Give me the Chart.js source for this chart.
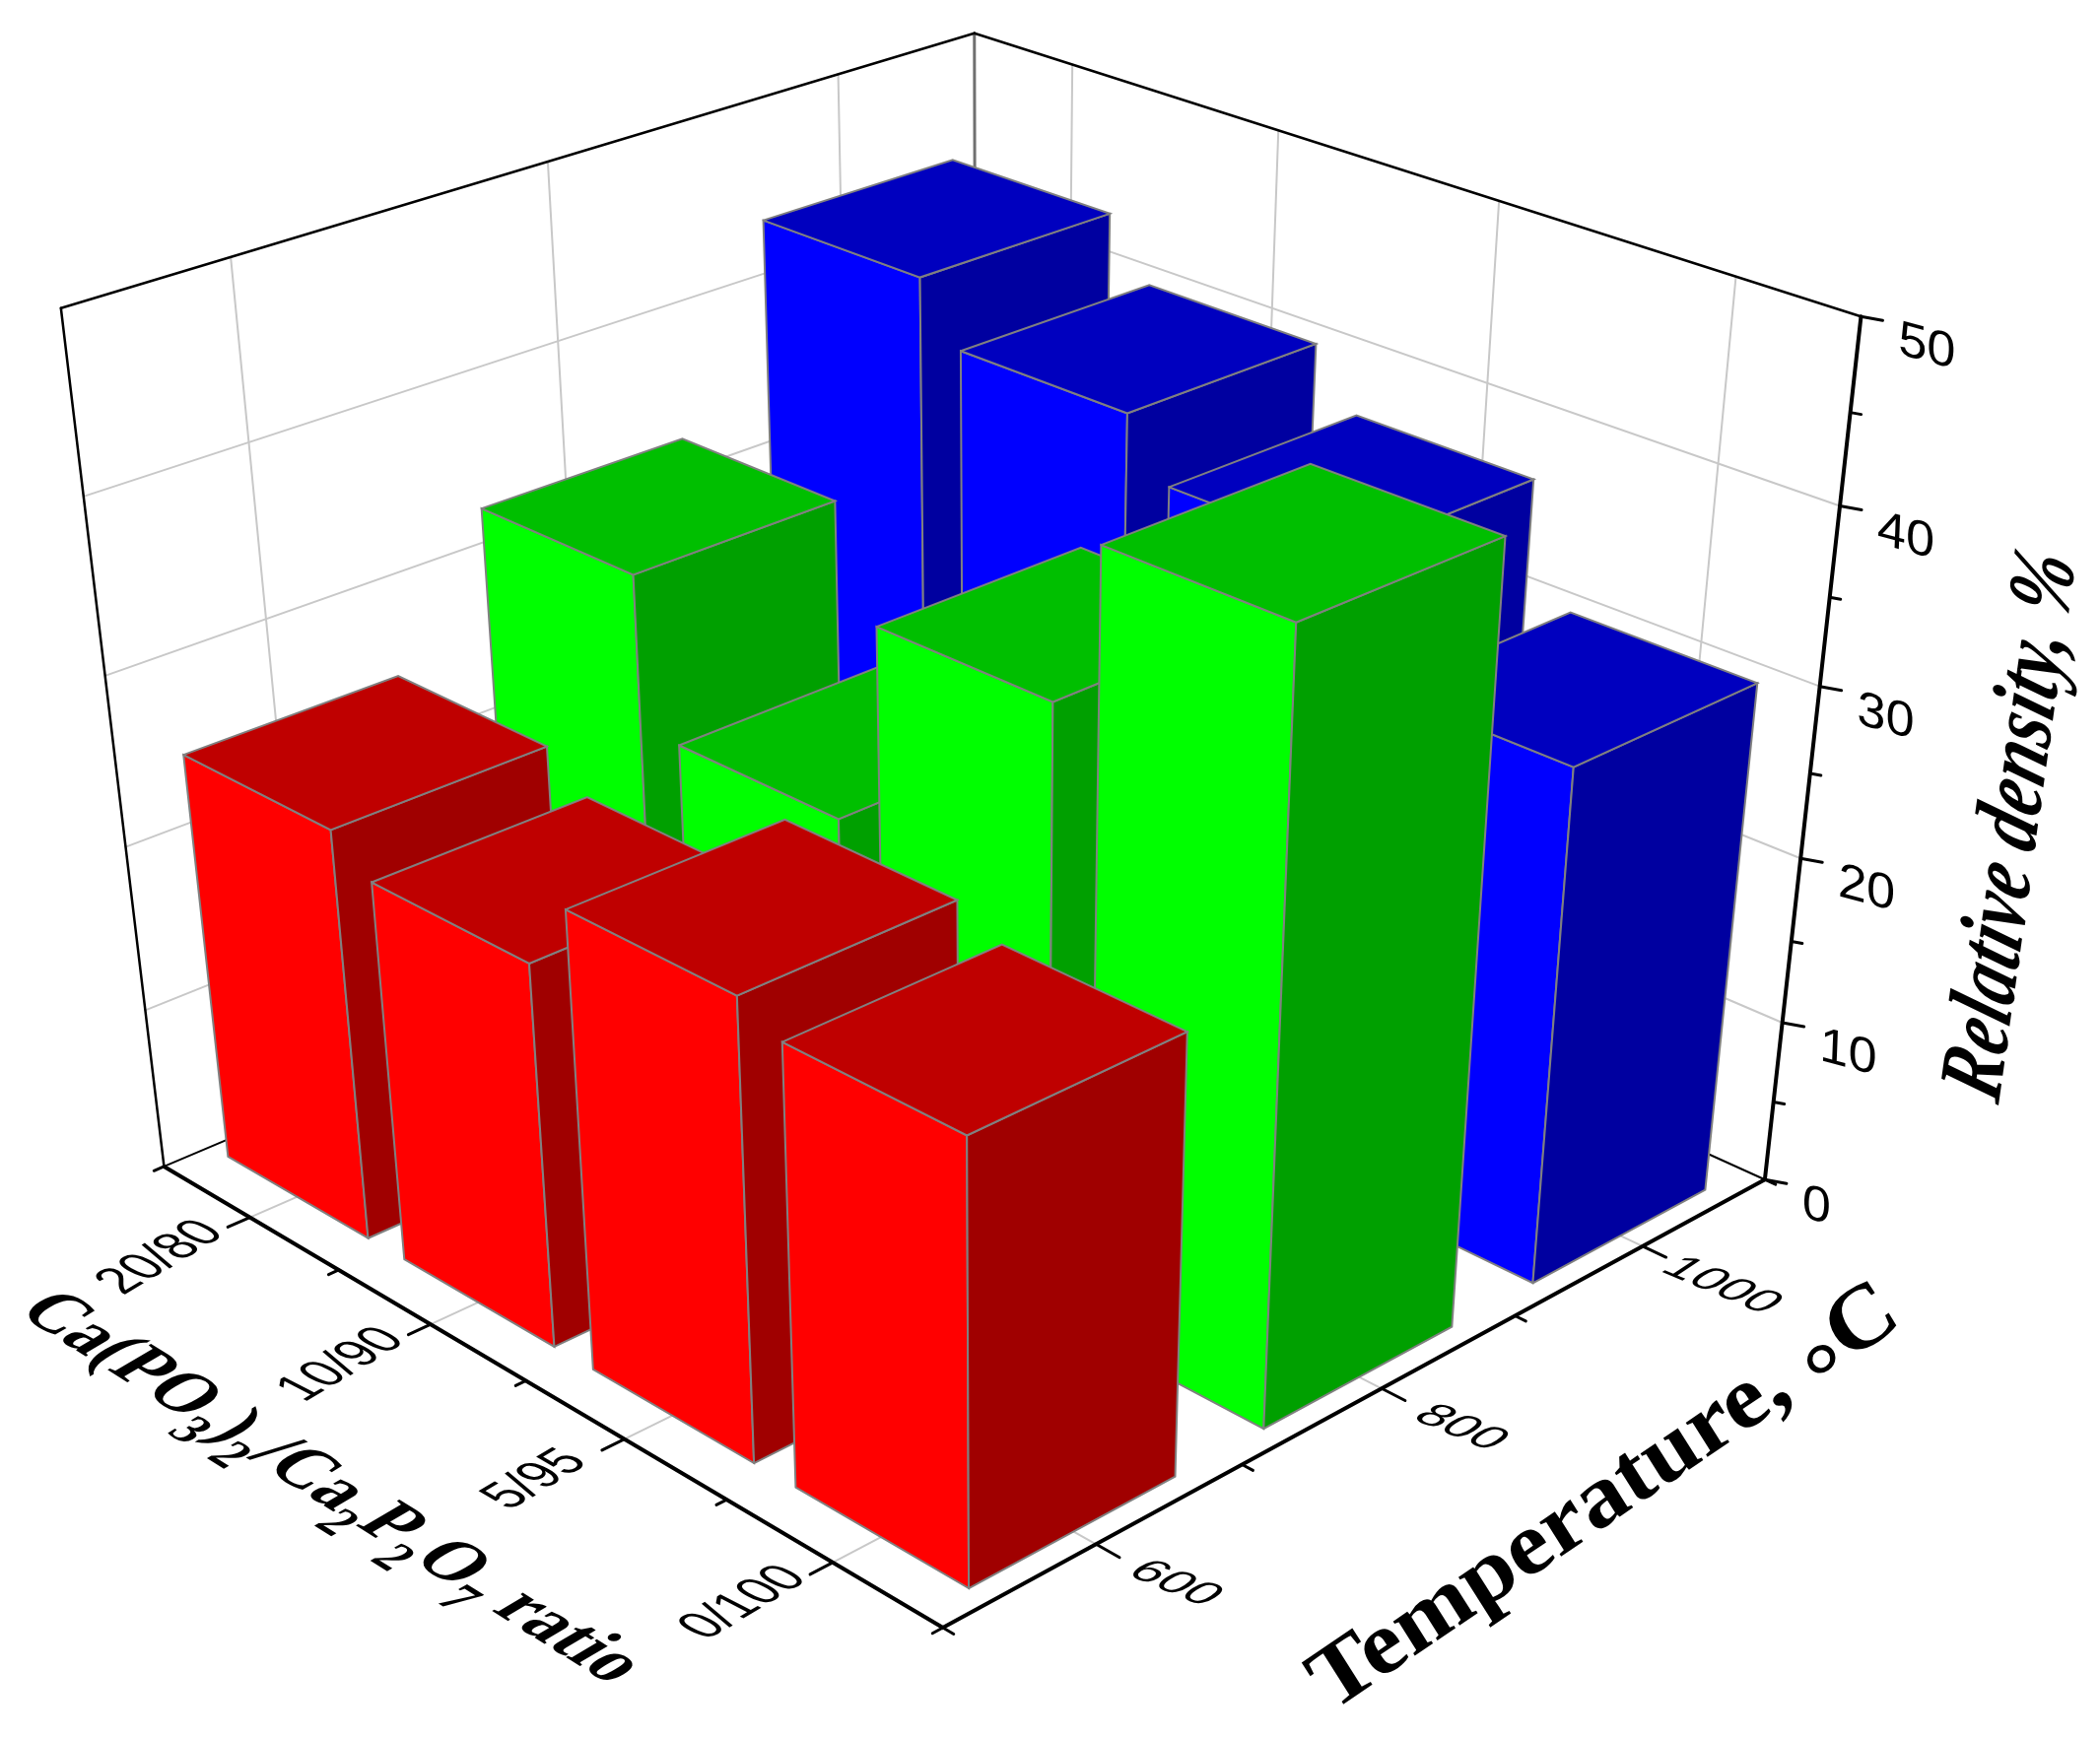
<!DOCTYPE html>
<html>
<head>
<meta charset="utf-8">
<title>Relative density</title>
<script src="https://cdn.jsdelivr.net/npm/chart.js@4/dist/chart.umd.min.js"></script>
<style>
  body { margin: 0; background: #fff; }
  canvas { display: block; }
</style>
</head>
<body>
<canvas id="grafico" width="2131" height="1763"></canvas>
<script>
const temperatures = ["600", "800", "1000"];
const ratios = ["20/80", "10/90", "5/95", "0/100"];
const densityTicks = [0, 10, 20, 30, 40, 50];

// relative density (%) per ratio, one list per temperature
const density600 = [24.9, 23, 27.2, 25.9];
const density800 = [32.8, 23.9, 35.8, 45];
const density1000 = [43.8, 40.5, 37.3, 30.7];
const densities = [density600, density800, density1000];

const barColors = [
  { front: "#ff0000", top: "#bf0000", side: "#a00000" },
  { front: "#00ff00", top: "#00bf00", side: "#00a000" },
  { front: "#0000ff", top: "#0000bf", side: "#0000a0" },
];

const W = 2131;
const H = 1763;
const DENSITY_MAX = 50;
const BAR_DX = 0.1; // half width along the ratio axis (box units)
const BAR_DY = 0.115; // half width along the temperature axis

// where the corners of the box land on the page; the camera is fitted to them
// x: ratio axis, y: temperature axis, z: density, all 0..1
const boxCorners = [
  [0, 0, 0, 167, 1182],
  [1, 0, 0, 956, 1654],
  [1, 1, 0, 1792, 1194],
  [0, 1, 0, 990, 838],
  [0, 0, 1, 62, 313],
  [0, 1, 1, 989, 32],
  [1, 1, 1, 1888, 323],
];

function solve(A, b) {
  const n = b.length;
  const M = A.map((row, i) => [...row, b[i]]);
  for (let c = 0; c < n; c++) {
    let piv = c;
    for (let r = c + 1; r < n; r++) if (Math.abs(M[r][c]) > Math.abs(M[piv][c])) piv = r;
    [M[c], M[piv]] = [M[piv], M[c]];
    for (let r = 0; r < n; r++) {
      if (r === c) continue;
      const f = M[r][c] / M[c][c];
      for (let k = c; k <= n; k++) M[r][k] -= f * M[c][k];
    }
  }
  return M.map((row, i) => row[n] / row[i]);
}

function fitCamera(corners) {
  const rows = [];
  const rhs = [];
  corners.forEach(([x, y, z, u, v]) => {
    rows.push([x, y, z, 1, 0, 0, 0, 0, -u * x, -u * y, -u * z]);
    rhs.push(u);
    rows.push([0, 0, 0, 0, x, y, z, 1, -v * x, -v * y, -v * z]);
    rhs.push(v);
  });
  const n = 11;
  const AtA = Array.from({ length: n }, (_, i) =>
    Array.from({ length: n }, (_, j) => rows.reduce((s, r) => s + r[i] * r[j], 0))
  );
  const Atb = Array.from({ length: n }, (_, i) => rows.reduce((s, r, k) => s + r[i] * rhs[k], 0));
  return solve(AtA, Atb);
}

const cam = fitCamera(boxCorners);

function project(x, y, z) {
  const w = cam[8] * x + cam[9] * y + cam[10] * z + 1;
  return {
    x: (cam[0] * x + cam[1] * y + cam[2] * z + cam[3]) / w,
    y: (cam[4] * x + cam[5] * y + cam[6] * z + cam[7]) / w,
  };
}

const ratioPos = (i) => (i + 0.5) / ratios.length;
const tempPos = (j) => (j + 0.5) / temperatures.length;
const zPos = (value) => value / DENSITY_MAX;

// painter's order: first pushed is furthest back
const layers = [];

function addLine(points, color, width) {
  layers.push({
    data: points,
    borderColor: color,
    borderWidth: width,
    fill: false,
  });
}

function addFace(corners, color) {
  layers.push({
    data: [...corners, corners[0]].map((c) => project(c[0], c[1], c[2])),
    borderColor: "#808080",
    borderWidth: 2,
    backgroundColor: color,
    fill: "shape",
  });
}

function addBar(x, y, value, colors) {
  const x0 = x - BAR_DX, x1 = x + BAR_DX;
  const y0 = y - BAR_DY, y1 = y + BAR_DY;
  const z = zPos(value);
  addFace([[x0, y0, 0], [x1, y0, 0], [x1, y0, z], [x0, y0, z]], colors.front);
  addFace([[x1, y0, 0], [x1, y1, 0], [x1, y1, z], [x1, y0, z]], colors.side);
  addFace([[x0, y0, z], [x1, y0, z], [x1, y1, z], [x0, y1, z]], colors.top);
}

const GRID = "#c8c8c8";

// walls and floor grid
densityTicks.slice(1, -1).forEach((v) => {
  const z = zPos(v);
  addLine([project(0, 0, z), project(0, 1, z)], GRID, 2);
  addLine([project(0, 1, z), project(1, 1, z)], GRID, 2);
});
temperatures.forEach((_, j) => {
  const y = tempPos(j);
  addLine([project(0, y, 1), project(0, y, 0)], GRID, 2);
  addLine([project(0, y, 0), project(1, y, 0)], GRID, 2);
});
ratios.forEach((_, i) => {
  const x = ratioPos(i);
  addLine([project(x, 1, 1), project(x, 1, 0)], GRID, 2);
  addLine([project(x, 0, 0), project(x, 1, 0)], GRID, 2);
});

// back frame
addLine([project(0, 1, 0), project(0, 1, 1)], "#707070", 3);
addLine([project(0, 0, 1), project(0, 1, 1)], "#000", 2.5);
addLine([project(0, 1, 1), project(1, 1, 1)], "#000", 2.5);
addLine([project(0, 0, 0), project(0, 0, 1)], "#000", 2.5);
addLine([project(0, 0, 0), project(0, 1, 0)], "#000", 2);
addLine([project(1, 1, 0), project(0, 1, 0)], "#000", 2);

// bars, back row (high temperature) first
for (let j = temperatures.length - 1; j >= 0; j--) {
  densities[j].forEach((value, i) => {
    addBar(ratioPos(i), tempPos(j), value, barColors[j]);
  });
}

// axes and tick marks over the bars
addLine([project(0, 0, 0), project(1, 0, 0)], "#000", 4);
addLine([project(1, 0, 0), project(1, 1, 0)], "#000", 4);
addLine([project(1, 1, 0), project(1, 1, 1)], "#000", 4);

for (let k = 0; k <= ratios.length * 2; k++) {
  const x = k / (ratios.length * 2);
  addLine([project(x, 0, 0), project(x, k % 2 ? -0.024 : -0.011, 0)], "#000", 3);
}
for (let k = 0; k <= temperatures.length * 2; k++) {
  const y = k / (temperatures.length * 2);
  addLine([project(1, y, 0), project(k % 2 ? 1.026 : 1.012, y, 0)], "#000", 3);
}
for (let v = 0; v <= DENSITY_MAX; v += 5) {
  const p = project(1, 1, zPos(v));
  const major = v % 10 === 0;
  addLine([p, { x: p.x + (major ? 22 : 11), y: p.y + (major ? 4 : 2) }], "#000", 3);
}

// ---- text ----

function drawSkewed(ctx, text, font, x, y, along, down, align) {
  const FS = 100;
  ctx.save();
  ctx.transform(along[0] / FS, along[1] / FS, down[0] / FS, down[1] / FS, x, y);
  ctx.font = font.replace("SIZE", FS + "px");
  ctx.fillStyle = "#000";
  ctx.textAlign = align;
  ctx.textBaseline = "middle";
  ctx.fillText(text, 0, 0);
  ctx.restore();
}

// runs of [text, size factor, baseline shift in em]
function drawRuns(ctx, runs, font, x, y, along, down) {
  const FS = 100;
  ctx.save();
  ctx.transform(along[0] / FS, along[1] / FS, down[0] / FS, down[1] / FS, x, y);
  ctx.fillStyle = "#000";
  ctx.textAlign = "left";
  ctx.textBaseline = "alphabetic";
  let pen = 0;
  runs.forEach(([text, size, shift]) => {
    ctx.font = font.replace("SIZE", FS * size + "px");
    ctx.fillText(text, pen, shift * FS);
    pen += ctx.measureText(text).width;
  });
  ctx.restore();
}

const SANS = '"Liberation Sans"';
const SERIF = '"Liberation Serif"';

const labelsPlugin = {
  id: "labels3d",
  afterDatasetsDraw(chart) {
    const ctx = chart.ctx;
    const sx = chart.scales.x;
    const sy = chart.scales.y;
    const at = (p, dx, dy) => [sx.getPixelForValue(p.x) + dx, sy.getPixelForValue(p.y) + dy];

    ratios.forEach((label, i) => {
      const [x, y] = at(project(ratioPos(i), 0, 0), -90, 41);
      drawSkewed(ctx, label, "SIZE " + SANS, x, y, [42, -25], [50, 26], "center");
    });
    temperatures.forEach((label, j) => {
      const [x, y] = at(project(1, tempPos(j), 0), 80, 40);
      drawSkewed(ctx, label, "SIZE " + SANS, x, y, [48, 20], [-38, 25], "center");
    });
    densityTicks.forEach((v) => {
      const [x, y] = at(project(1, 1, zPos(v)), 38, 24);
      drawSkewed(ctx, String(v), "SIZE " + SANS, x, y, [52, 14], [-2, 50], "left");
    });

    drawRuns(
      ctx,
      [
        ["Ca(PO", 1, 0], ["3", 0.7, 0.32], [")", 1, 0], ["2", 0.7, 0.32], ["/Ca", 1, 0],
        ["2", 0.7, 0.32], ["P", 1, 0], ["2", 0.7, 0.32], ["O", 1, 0], ["7", 0.7, 0.32], [" ratio", 1, 0],
      ],
      "bold SIZE " + SERIF, 16, 1332, [59, 37], [-68, 40]
    );
    drawRuns(
      ctx,
      [["Temperature, ", 1, 0], ["°", 1, 0.32], ["C", 1, 0]],
      "bold SIZE " + SERIF, 1351, 1738, [81, -55], [48, 76]
    );
    drawRuns(
      ctx,
      [["Relative density, %", 1, 0]],
      "italic bold SIZE " + SERIF, 2028, 1122, [10, -71], [90, 30]
    );
  },
};

new Chart(document.getElementById("grafico"), {
  type: "scatter",
  data: { datasets: layers.slice().reverse() },
  options: {
    responsive: false,
    animation: false,
    events: [],
    layout: { padding: 0 },
    elements: { point: { radius: 0 }, line: { tension: 0, borderCapStyle: "round", borderJoinStyle: "miter" } },
    datasets: { scatter: { showLine: true, clip: false } },
    plugins: { legend: { display: false }, tooltip: { enabled: false } },
    scales: {
      x: { type: "linear", display: false, min: 0, max: W },
      y: { type: "linear", display: false, min: 0, max: H, reverse: true },
    },
  },
  plugins: [labelsPlugin],
});
</script>
</body>
</html>
